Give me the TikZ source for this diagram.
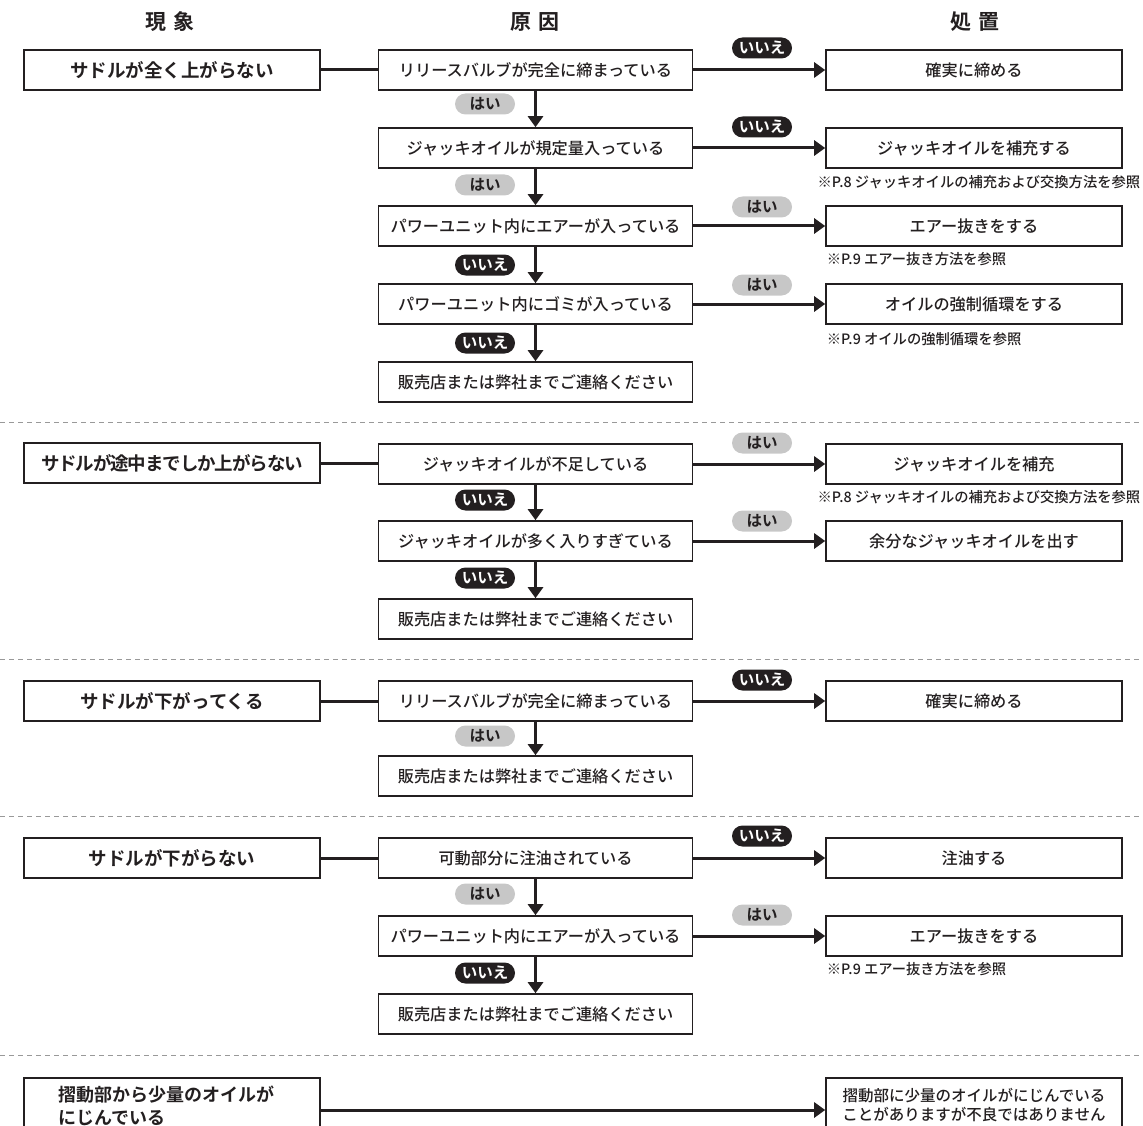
\documentclass[tikz,border=0pt]{standalone}
\usepackage{fontspec}
\setmainfont{Noto Sans CJK JP Medium}[BoldFont={Noto Sans CJK JP Bold}]
\usetikzlibrary{arrows.meta}
\definecolor{pillgray}{gray}{0.78}
\definecolor{sepgray}{gray}{0.6}
\definecolor{ink}{HTML}{231F20}

\begin{document}
\begin{tikzpicture}[x=1pt,y=-1pt,line width=1.6pt,draw=ink,text=ink,
  every node/.style={inner sep=2pt},
  sym/.style={draw,minimum width=296pt,minimum height=40pt,font=\bfseries\fontsize{18.5}{20}\selectfont},
  cause/.style={draw,minimum width=314pt,minimum height=40pt,font=\fontsize{16.2}{18}\selectfont},
  act/.style={draw,minimum width=296pt,minimum height=40pt,font=\fontsize{16.2}{18}\selectfont},
  nopill/.style={fill=ink,text=white,rounded corners=10.5pt,minimum width=60pt,minimum height=21pt,inner sep=0pt,font=\bfseries\fontsize{15.5}{15}\selectfont},
  yespill/.style={nopill,fill=pillgray,text=ink},
  note/.style={inner sep=0pt,font=\fontsize{14.3}{14}\selectfont},
  head/.style={font=\bfseries\fontsize{21}{22}\selectfont},
  joinline/.style={draw=ink,line width=3pt},
  arr/.style={draw=ink,line width=3pt,-{Triangle[length=11pt,width=15pt]}},
  divider/.style={line width=0.8pt,draw=sepgray,dash pattern=on 5pt off 4pt}]
\useasboundingbox (0,0) rectangle (1143,1126);
\clip (0,0) rectangle (1143,1126);
\node[head] (h1) at (170,22) {現\hspace{0.3em}象};
\node[head] (h2) at (535,22) {原\hspace{0.3em}因};
\node[head] (h3) at (975,22) {処\hspace{0.3em}置};
% saddle does not rise at all
\node[sym] (s1) at (172,70) {サドルが全く上がらない};
\node[cause] (c11) at (535.5,70) {リリースバルブが完全に締まっている};
\node[cause] (c12) at (535.5,148) {ジャッキオイルが規定量入っている};
\node[cause] (c13) at (535.5,226) {パワーユニット内にエアーが入っている};
\node[cause] (c14) at (535.5,304) {パワーユニット内にゴミが入っている};
\node[cause] (c15) at (535.5,382) {販売店または弊社までご連絡ください};
\node[act] (a11) at (974,70) {確実に締める};
\node[act] (a12) at (974,148) {ジャッキオイルを補充する};
\node[act] (a13) at (974,226) {エアー抜きをする};
\node[act] (a14) at (974,304) {オイルの強制循環をする};
\node[note,anchor=east] (n12) at (1141,182) {※P.8 ジャッキオイルの補充および交換方法を参照};
\node[note,anchor=west] (n13) at (826,259) {※P.9 エアー抜き方法を参照};
\node[note,anchor=west] (n14) at (826,339) {※P.9 オイルの強制循環を参照};
\draw[joinline] (s1) -- (c11);
\draw[arr] (c11) -- (a11);
\draw[arr] (c12) -- (a12);
\draw[arr] (c13) -- (a13);
\draw[arr] (c14) -- (a14);
\draw[arr] (c11) -- (c12);
\draw[arr] (c12) -- (c13);
\draw[arr] (c13) -- (c14);
\draw[arr] (c14) -- (c15);
\node[nopill] (p11) at (762,48) {いいえ};
\node[nopill] (p12) at (762,127) {いいえ};
\node[yespill] (p13) at (762,207) {はい};
\node[yespill] (p14) at (762,285) {はい};
\node[yespill] (q11) at (485,104) {はい};
\node[yespill] (q12) at (485,185) {はい};
\node[nopill] (q13) at (485,265) {いいえ};
\node[nopill] (q14) at (485,343) {いいえ};
\draw[divider] (0,422) -- (1143,422);
% saddle stops halfway
\node[sym] (s2) at (172,463) {\addfontfeature{LetterSpace=-6}サドルが途中までしか上がらない};
\node[cause] (c21) at (535.5,464) {ジャッキオイルが不足している};
\node[cause] (c22) at (535.5,541) {ジャッキオイルが多く入りすぎている};
\node[cause] (c23) at (535.5,619) {販売店または弊社までご連絡ください};
\node[act] (a21) at (974,464) {ジャッキオイルを補充};
\node[act] (a22) at (974,541) {余分なジャッキオイルを出す};
\node[note,anchor=east] (n21) at (1141,497) {※P.8 ジャッキオイルの補充および交換方法を参照};
\draw[joinline] (s2.east) -- (s2.east -| c21.west);
\draw[arr] (c21) -- (a21);
\draw[arr] (c22) -- (a22);
\draw[arr] (c21) -- (c22);
\draw[arr] (c22) -- (c23);
\node[yespill] (p21) at (762,443) {はい};
\node[yespill] (p22) at (762,521) {はい};
\node[nopill] (q21) at (485,500) {いいえ};
\node[nopill] (q22) at (485,578) {いいえ};
\draw[divider] (0,659) -- (1143,659);
% saddle sinks
\node[sym] (s3) at (172,701) {サドルが下がってくる};
\node[cause] (c31) at (535.5,701) {リリースバルブが完全に締まっている};
\node[cause] (c32) at (535.5,776) {販売店または弊社までご連絡ください};
\node[act] (a31) at (974,701) {確実に締める};
\draw[joinline] (s3) -- (c31);
\draw[arr] (c31) -- (a31);
\draw[arr] (c31) -- (c32);
\node[nopill] (p31) at (762,680) {いいえ};
\node[yespill] (q31) at (485,736) {はい};
\draw[divider] (0,816) -- (1143,816);
% saddle does not lower
\node[sym] (s4) at (172,858) {サドルが下がらない};
\node[cause] (c41) at (535.5,858) {可動部分に注油されている};
\node[cause] (c42) at (535.5,936) {パワーユニット内にエアーが入っている};
\node[cause] (c43) at (535.5,1014) {販売店または弊社までご連絡ください};
\node[act] (a41) at (974,858) {注油する};
\node[act] (a42) at (974,936) {エアー抜きをする};
\node[note,anchor=west] (n42) at (826,969) {※P.9 エアー抜き方法を参照};
\draw[joinline] (s4) -- (c41);
\draw[arr] (c41) -- (a41);
\draw[arr] (c42) -- (a42);
\draw[arr] (c41) -- (c42);
\draw[arr] (c42) -- (c43);
\node[nopill] (p41) at (762,836) {いいえ};
\node[yespill] (p42) at (762,915) {はい};
\node[yespill] (q41) at (485,894) {はい};
\node[nopill] (q42) at (485,973) {いいえ};
\draw[divider] (0,1055) -- (1143,1055);
% oil seepage
\node[sym,anchor=north,minimum height=56pt,text width=228pt,align=left,font=\bfseries\fontsize{18}{23}\selectfont] (s5) at (172,1077) {摺動部から少量のオイルが\\にじんでいる};
\node[act,anchor=north,minimum height=54pt,align=center,font=\fontsize{15.5}{19}\selectfont] (a5) at (974,1077) {摺動部に少量のオイルがにじんでいる\\ことがありますが不良ではありません};
\coordinate (y5) at (0,1110);
\draw[arr] (s5.east |- y5) -- (a5.west |- y5);
\end{tikzpicture}
\end{document}
